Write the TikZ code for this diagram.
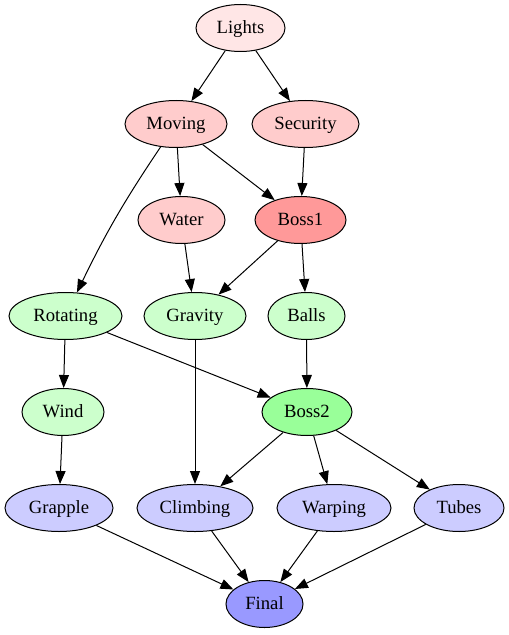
\documentclass[tikz,border=0pt]{standalone}
\usepackage{fontspec}
\setmainfont{Liberation Serif}
\usetikzlibrary{shapes.geometric, arrows.meta}
\definecolor{palepink}{HTML}{FFE6E6}
\definecolor{lightred}{HTML}{FFCCCC}
\definecolor{bossred}{HTML}{FF9999}
\definecolor{lightgreen}{HTML}{CCFFCC}
\definecolor{bossgreen}{HTML}{99FF99}
\definecolor{lightblue}{HTML}{CCCCFF}
\definecolor{finalblue}{HTML}{9999FF}

\begin{document}
\begin{tikzpicture}[x=0.75pt, y=-0.75pt,
    stage/.style={ellipse, draw, line width=0.75pt, inner sep=0pt,
        minimum height=35.25pt, text height=11pt, text depth=2.75pt,
        font=\fontsize{14}{16}\selectfont},
    link/.style={-{Triangle[length=9.75pt,width=7.5pt]}, line width=0.75pt}]
    \useasboundingbox (0,0) rectangle (509,635);
    % first area
    \node (lights) at (240.5,28) [stage, fill=palepink, minimum width=66.75pt] {Lights};
    \node (moving) at (176,124) [stage, fill=lightred, minimum width=76.5pt] {Moving};
    \node (security) at (305.5,124) [stage, fill=lightred, minimum width=80.25pt] {Security};
    \node (water) at (181.5,220) [stage, fill=lightred, minimum width=65.25pt] {Water};
    \node (boss1) at (300.5,220) [stage, fill=bossred, minimum width=68.25pt] {Boss1};
    % second area
    \node (rotating) at (65.5,316) [stage, fill=lightgreen, minimum width=84.75pt] {Rotating};
    \node (gravity) at (195,316) [stage, fill=lightgreen, minimum width=76.5pt] {Gravity};
    \node (balls) at (306.5,316) [stage, fill=lightgreen, minimum width=57.75pt] {Balls};
    \node (wind) at (63,412) [stage, fill=lightgreen, minimum width=61.5pt] {Wind};
    \node (boss2) at (307,412) [stage, fill=bossgreen, minimum width=67.5pt] {Boss2};
    % third area
    \node (grapple) at (59,508) [stage, fill=lightblue, minimum width=81pt] {Grapple};
    \node (climbing) at (195,508) [stage, fill=lightblue, minimum width=87pt] {Climbing};
    \node (warping) at (334,508) [stage, fill=lightblue, minimum width=85.5pt] {Warping};
    \node (tubes) at (459,508) [stage, fill=lightblue, minimum width=67.5pt] {Tubes};
    \node (final) at (264.5,604) [stage, fill=finalblue, minimum width=57.75pt] {Final};
    % edges
    \foreach \a/\b in {lights/moving, lights/security, moving/water, moving/boss1,
        security/boss1, water/gravity, boss1/gravity, boss1/balls,
        rotating/wind, rotating/boss2, balls/boss2, gravity/climbing,
        wind/grapple, boss2/climbing, boss2/warping, boss2/tubes,
        grapple/final, climbing/final, warping/final, tubes/final}
        \draw[link] (\a) -- (\b);
    \draw[link] (moving) to[bend right=4] (rotating);
\end{tikzpicture}
\end{document}
